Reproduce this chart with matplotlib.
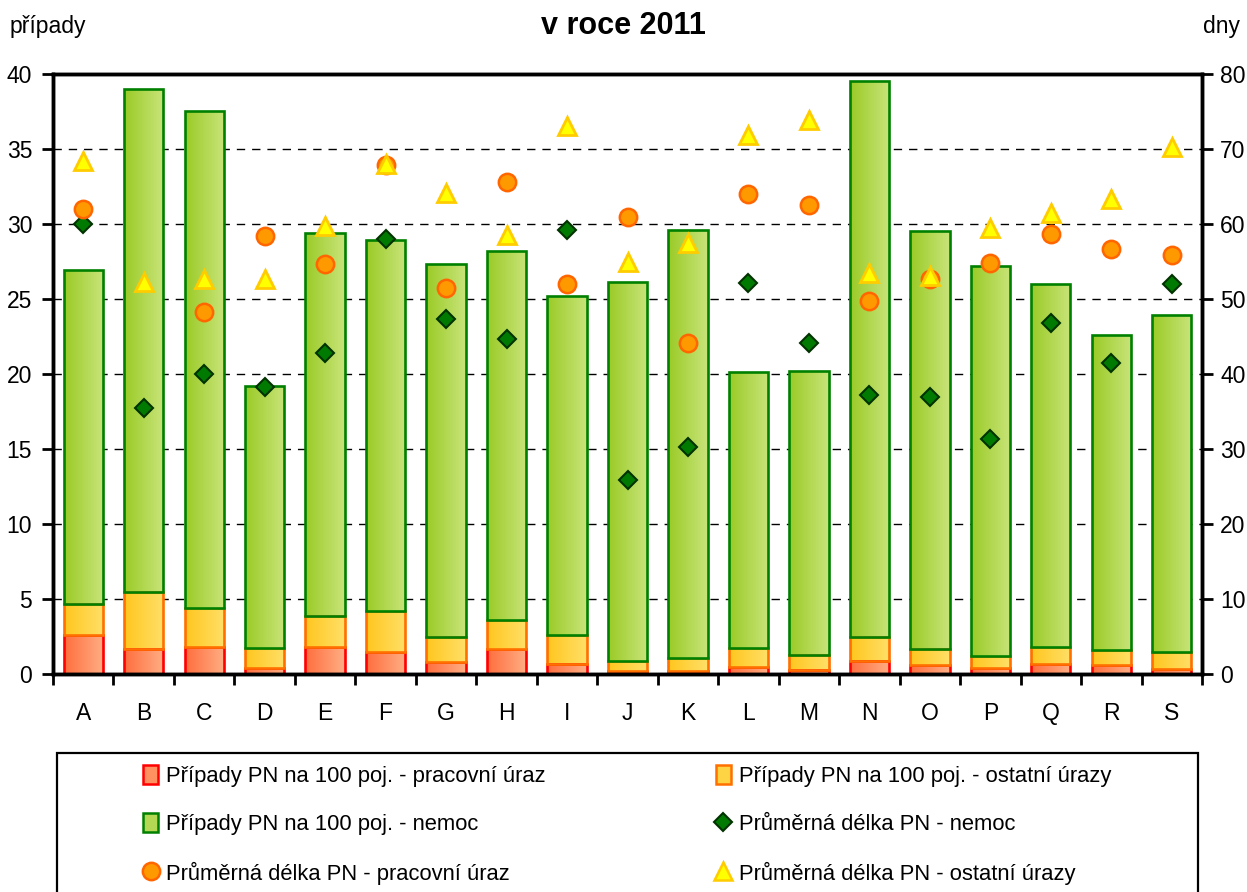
import matplotlib
matplotlib.use("Agg")
import matplotlib.pyplot as plt
import numpy as np
from matplotlib.patches import Patch, Rectangle
from matplotlib.lines import Line2D
from matplotlib.colors import LinearSegmentedColormap

plt.rcParams['font.family'] = ['Liberation Sans', 'DejaVu Sans']

# data
sekce = list("ABCDEFGHIJKLMNOPQRS")
pn_pracovni_uraz = [2.6, 1.7, 1.8, 0.4, 1.8, 1.45, 0.8, 1.65, 0.7, 0.2, 0.2,
                    0.45, 0.3, 0.9, 0.6, 0.4, 0.65, 0.6, 0.35]
pn_ostatni_urazy = [2.1, 3.8, 2.6, 1.35, 2.1, 2.75, 1.7, 1.95, 1.9, 0.65, 0.85,
                    1.3, 1.0, 1.6, 1.1, 0.8, 1.15, 1.0, 1.1]
pn_nemoc = [22.2, 33.5, 33.1, 17.45, 25.5, 24.7, 24.8, 24.6, 22.6, 25.25, 28.55,
            18.35, 18.93, 37.0, 27.8, 26.0, 24.2, 21.0, 22.5]
delka_nemoc = [60.0, 35.4, 40.0, 38.2, 42.8, 58.0, 47.3, 44.7, 59.2, 25.9, 30.3,
               52.1, 44.1, 37.2, 36.9, 31.3, 46.8, 41.5, 52.0]
delka_pracovni_uraz = [62.0, np.nan, 48.3, 58.4, 54.7, 67.9, 51.5, 65.6, 52.0, 60.9, 44.1,
                       64.0, 62.5, 49.7, 52.6, 54.8, 58.6, 56.7, 55.8]
delka_ostatni_urazy = [68.4, 52.3, 52.6, 52.6, 59.7, 68.0, 64.1, 58.5, 73.1, 54.9, 57.5,
                       71.8, 73.8, 53.4, 53.0, 59.5, 61.5, 63.3, 70.2]

W, H = 1247, 892
fig = plt.figure(figsize=(W / 100, H / 100), dpi=100)
ax = fig.add_axes([53 / W, 1 - 674 / H, (1202 - 53) / W, 600 / H])
ax2 = ax.twinx()

x = np.arange(len(sekce))
grad = np.linspace(0, 1, 100).reshape(1, -1)


def gradient_bars(bottom, height, c_left, c_right, edge, z):
    cmap = LinearSegmentedColormap.from_list('g', [c_left, c_right])
    bars = ax.bar(x, height, width=0.65, bottom=bottom, facecolor='none',
                  edgecolor=edge, linewidth=1.9, zorder=z + 0.05)
    for b in bars:
        x0, y0 = b.get_x(), b.get_y()
        im = ax.imshow(grad, extent=[x0, x0 + b.get_width(), y0, y0 + b.get_height()],
                       cmap=cmap, aspect='auto', interpolation='bilinear', zorder=z)
        im.set_clip_path(b)


b1 = np.array(pn_pracovni_uraz)
b2 = b1 + np.array(pn_ostatni_urazy)
gradient_bars(0, pn_pracovni_uraz, '#ff6e3e', '#ffae84', '#ff0000', 2.0)
gradient_bars(b1, pn_ostatni_urazy, '#ffc61e', '#ffe068', '#ff7000', 2.1)
gradient_bars(b2, pn_nemoc, '#9acb26', '#c9e47a', '#008000', 2.2)

ax.set_xlim(-0.5, len(sekce) - 0.5)
ax.set_ylim(0, 40)
ax.set_yticks(np.arange(0, 41, 5))
ax.set_xticks(x)
ax.set_xticklabels(sekce)
ax.set_xticks(np.arange(-0.5, len(sekce), 1), minor=True)
ax.yaxis.grid(True, linestyle=(0, (6, 5)), color='black', linewidth=1)
ax.set_axisbelow(True)

ax2.plot(x, delka_nemoc, ls='none', marker='D', ms=9, mfc='#007a00', mec='#003300', mew=1.5, zorder=3)
ax2.plot(x, delka_pracovni_uraz, ls='none', marker='o', ms=12.5, mfc='#ff9900', mec='#ff6600', mew=1.8, zorder=4)
ax2.plot(x, delka_ostatni_urazy, ls='none', marker='^', ms=13.5, mfc='#ffff00', mec='#ffcc00', mew=2, zorder=5)
ax2.set_ylim(0, 80)
ax2.set_yticks(np.arange(0, 81, 10))

for a in (ax, ax2):
    for s in a.spines.values():
        s.set_linewidth(2.5)
        s.set_color('black')

ax.tick_params(axis='y', direction='out', length=8, width=2, labelsize=16.5, pad=7)
ax2.tick_params(axis='y', direction='out', length=8, width=2, labelsize=16.5, pad=5)
ax.tick_params(axis='x', which='major', length=0, labelsize=16.5, pad=20)
ax.tick_params(axis='x', which='minor', direction='out', length=8, width=2)

fig.text(10 / W, 1 - 27 / H, 'případy', ha='left', va='center', fontsize=16.5)
fig.text(1240 / W, 1 - 27 / H, 'dny', ha='right', va='center', fontsize=16.5)
fig.text(623 / W, 1 - 26 / H, 'v roce 2011', ha='center', va='center', fontsize=22, fontweight='bold')

handles = [
    Patch(facecolor='#ff9060', edgecolor='#ff0000', linewidth=1.8),
    Patch(facecolor='#b4d854', edgecolor='#008000', linewidth=1.8),
    Line2D([], [], ls='none', marker='o', ms=12.5, mfc='#ff9900', mec='#ff6600', mew=1.8),
    Patch(facecolor='#ffd444', edgecolor='#ff7000', linewidth=1.8),
    Line2D([], [], ls='none', marker='D', ms=9, mfc='#007a00', mec='#003300', mew=1.5),
    Line2D([], [], ls='none', marker='^', ms=13, mfc='#ffff00', mec='#ffcc00', mew=1.8),
]
labels = [
    'Případy PN na 100 poj. - pracovní úraz',
    'Případy PN na 100 poj. - nemoc',
    'Průměrná délka PN - pracovní úraz',
    'Případy PN na 100 poj. - ostatní úrazy',
    'Průměrná délka PN - nemoc',
    'Průměrná délka PN - ostatní úrazy',
]
fig.legend(handles, labels, loc='upper left', bbox_to_anchor=(143 / W, 1 - 765 / H),
           ncol=2, frameon=False, fontsize=15.8, handlelength=0.7, handleheight=0.95,
           handletextpad=0.35, columnspacing=7.75, labelspacing=1.2, borderpad=0,
           borderaxespad=0)
fig.patches.append(Rectangle((57 / W, -0.05), (1198 - 57) / W, 0.05 + 1 - 753 / H,
                             transform=fig.transFigure, fill=False, edgecolor='black',
                             linewidth=1.6))

fig.savefig('out.png', dpi=100)
